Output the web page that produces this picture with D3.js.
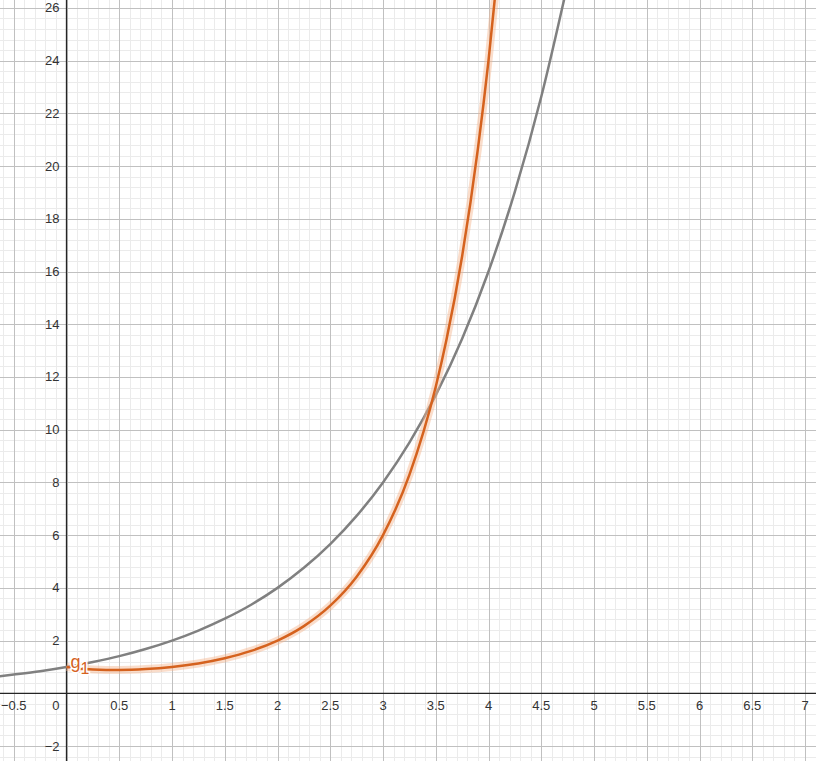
<!DOCTYPE html>
<html>
<head>
<meta charset="utf-8">
<script src="https://cdn.jsdelivr.net/npm/d3@7"></script>
<style>
  html, body { margin: 0; padding: 0; background: #fff; }
  svg { display: block; font-family: "Liberation Sans", Arial, sans-serif; }
</style>
</head>
<body>
<svg id="graph" width="816" height="761"></svg>
<script>
// values
var grayX = [-0.75, -0.5, -0.25, 0, 0.25, 0.5, 0.75, 1, 1.25, 1.5, 1.75, 2, 2.25, 2.5, 2.75, 3, 3.25, 3.5, 3.75, 4, 4.25, 4.5, 4.75];
var grayY = [0.59, 0.71, 0.84, 1, 1.19, 1.41, 1.68, 2, 2.38, 2.83, 3.36, 4, 4.76, 5.66, 6.73, 8, 9.51, 11.31, 13.45, 16, 19.03, 22.63, 26.91];
var orangeX = [0, 0.1, 0.25, 0.5, 0.75, 1, 1.25, 1.5, 1.75, 2, 2.25, 2.5, 2.75, 3, 3.25, 3.5, 3.6, 3.75, 3.9, 4, 4.1];
var orangeY = [1, 0.95, 0.906, 0.886, 0.919, 1, 1.133, 1.329, 1.608, 2, 2.549, 3.323, 4.423, 6, 8.285, 11.63, 13.38, 16.58, 20.67, 24, 27.93];
var xTicks = [-0.5, 0.5, 1, 1.5, 2, 2.5, 3, 3.5, 4, 4.5, 5, 5.5, 6, 6.5, 7];
var yTicks = [-2, 2, 4, 6, 8, 10, 12, 14, 16, 18, 20, 22, 24, 26];
var curveLabel = "g";
var curveSub = "1";

var width = 816, height = 761;
var x0 = 66.5, kx = 105.5, y0 = 693.3, ky = 26.36;
var x = d3.scaleLinear().domain([-x0 / kx, (width - x0) / kx]).range([0, width]);
var y = d3.scaleLinear().domain([-(height - y0) / ky, y0 / ky]).range([height, 0]);

var svg = d3.select("#graph");
var fmt = function (v) { return String(v).replace("-", "\u2212"); };

// grid
var minorX = d3.range(-7, 80).map(function (i) { return i / 10; });
var minorY = d3.range(-7, 70).map(function (i) { return i * 0.4; });
var majorX = d3.range(-2, 16).map(function (i) { return i / 2; });
var majorY = d3.range(-2, 15).map(function (i) { return i * 2; });

svg.append("g").selectAll("line").data(minorX).enter().append("line")
  .attr("x1", function (d) { return Math.round(x(d)) + 0.5; })
  .attr("x2", function (d) { return Math.round(x(d)) + 0.5; })
  .attr("y1", 0).attr("y2", height)
  .attr("stroke", "#ebebeb").attr("stroke-width", 1);
svg.append("g").selectAll("line").data(minorY).enter().append("line")
  .attr("y1", function (d) { return Math.round(y(d)) + 0.5; })
  .attr("y2", function (d) { return Math.round(y(d)) + 0.5; })
  .attr("x1", 0).attr("x2", width)
  .attr("stroke", "#ebebeb").attr("stroke-width", 1);
svg.append("g").selectAll("line").data(majorX).enter().append("line")
  .attr("x1", function (d) { return Math.round(x(d)) + 0.5; })
  .attr("x2", function (d) { return Math.round(x(d)) + 0.5; })
  .attr("y1", 0).attr("y2", height)
  .attr("stroke", "#c0c0c0").attr("stroke-width", 1);
svg.append("g").selectAll("line").data(majorY).enter().append("line")
  .attr("y1", function (d) { return Math.round(y(d)) + 0.5; })
  .attr("y2", function (d) { return Math.round(y(d)) + 0.5; })
  .attr("x1", 0).attr("x2", width)
  .attr("stroke", "#c0c0c0").attr("stroke-width", 1);

// axes
svg.append("line").attr("x1", 0).attr("x2", width)
  .attr("y1", y(0)).attr("y2", y(0))
  .attr("stroke", "#252525").attr("stroke-width", 1.3);
svg.append("line").attr("y1", 0).attr("y2", height)
  .attr("x1", x(0)).attr("x2", x(0))
  .attr("stroke", "#252525").attr("stroke-width", 1.3);

svg.append("g").selectAll("text").data(xTicks).enter().append("text")
  .attr("x", function (d) { return x(d); })
  .attr("y", y(0) + 17)
  .attr("text-anchor", "middle")
  .attr("font-size", 13).attr("fill", "#333")
  .text(fmt);
svg.append("g").selectAll("text").data(yTicks).enter().append("text")
  .attr("x", x(0) - 7)
  .attr("y", function (d) { return y(d) + 4.5; })
  .attr("text-anchor", "end")
  .attr("font-size", 13).attr("fill", "#333")
  .text(fmt);
svg.append("text").attr("x", x(0) - 7).attr("y", y(0) + 17)
  .attr("text-anchor", "end").attr("font-size", 13).attr("fill", "#333").text("0");

// curves
var clip = svg.append("clipPath").attr("id", "clip").append("rect")
  .attr("width", width).attr("height", height);
var line = d3.line()
  .x(function (d) { return x(d[0]); })
  .y(function (d) { return y(d[1]); })
  .curve(d3.curveMonotoneX);
var grayPts = d3.zip(grayX, grayY);
var orangePts = d3.zip(orangeX, orangeY);

var curves = svg.append("g").attr("clip-path", "url(#clip)");
curves.append("path").attr("d", line(grayPts))
  .attr("fill", "none").attr("stroke", "#808080").attr("stroke-width", 2.5);
curves.append("path").attr("d", line(orangePts))
  .attr("fill", "none").attr("stroke", "#f3b48c").attr("stroke-width", 8).attr("stroke-opacity", 0.45);
curves.append("path").attr("d", line(orangePts))
  .attr("fill", "none").attr("stroke", "#d5621e").attr("stroke-width", 2.5);

// label
var lab = svg.append("text")
  .attr("x", x(0) + 4).attr("y", y(0) - 25)
  .attr("fill", "#d5621e").attr("font-size", 18)
  .attr("stroke", "#fff").attr("stroke-width", 3).attr("paint-order", "stroke");
lab.append("tspan").text(curveLabel);
lab.append("tspan").attr("dy", 6).attr("font-size", 16).text(curveSub);
</script>
</body>
</html>
